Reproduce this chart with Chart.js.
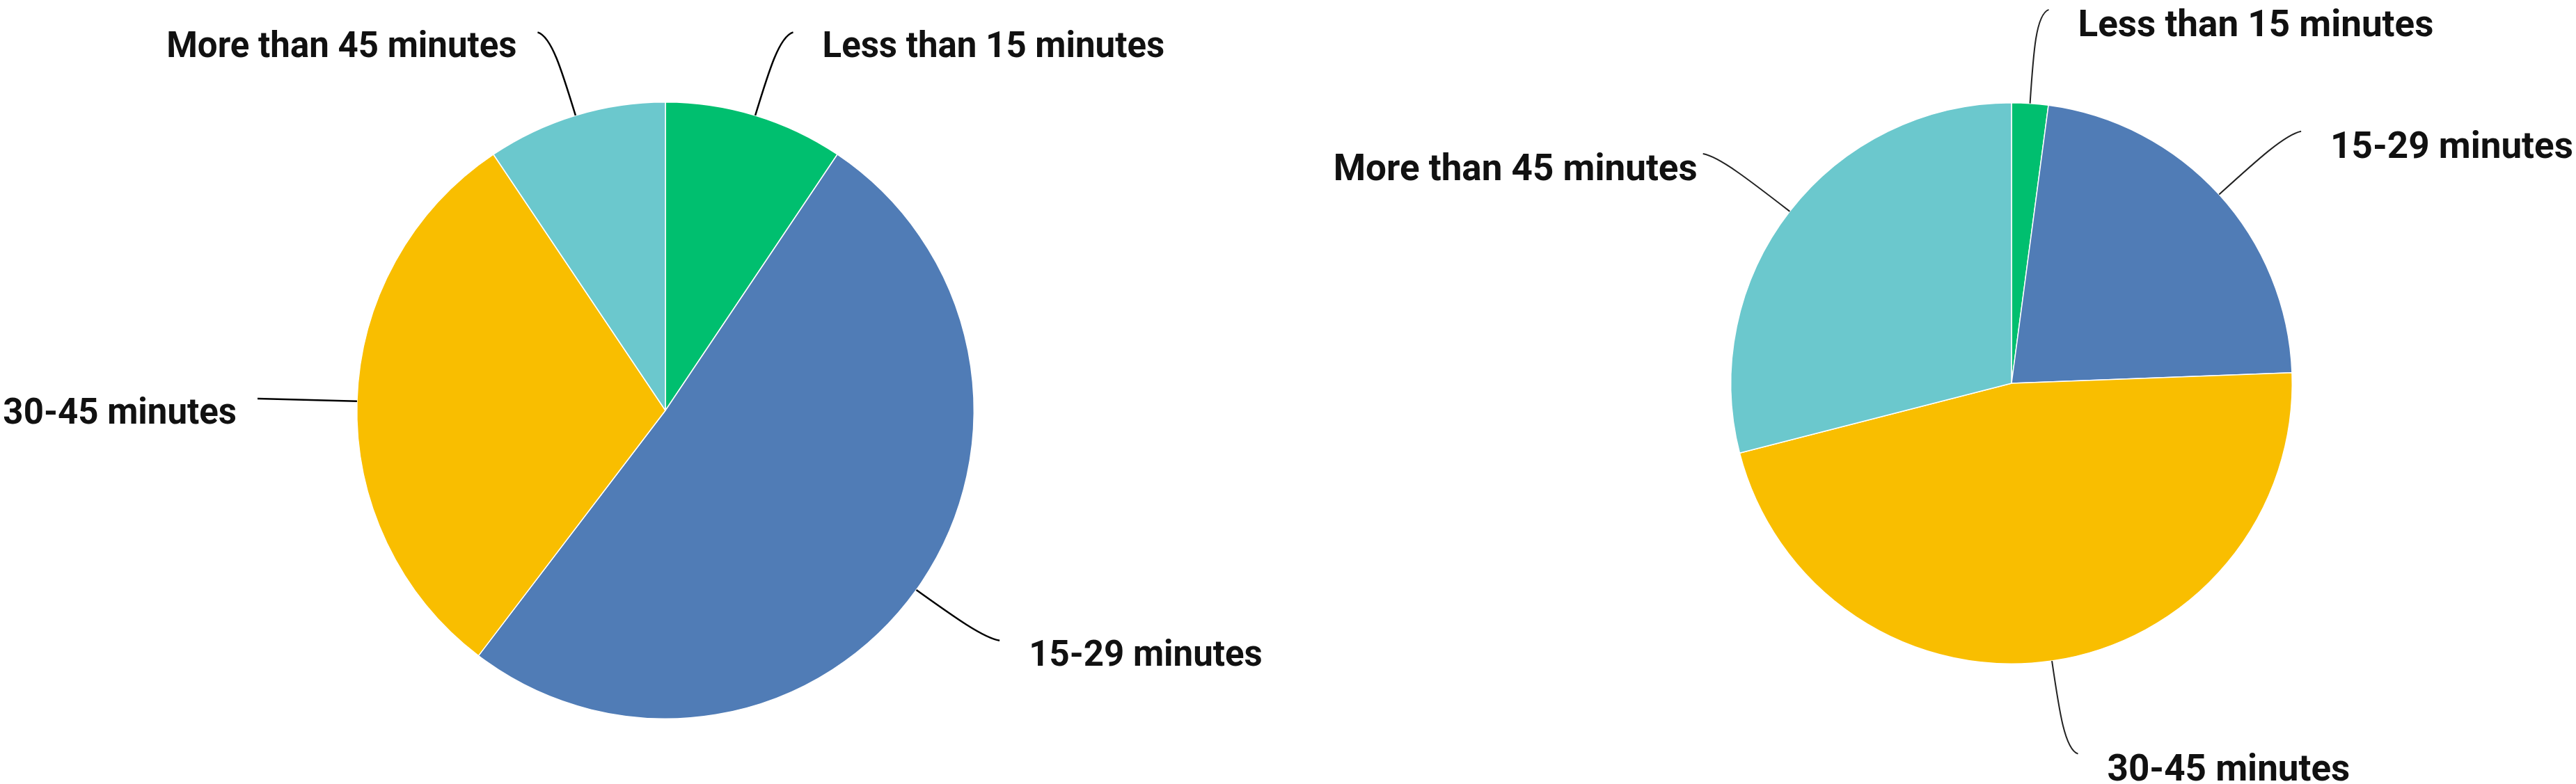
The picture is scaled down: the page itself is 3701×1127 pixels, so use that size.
<!DOCTYPE html>
<html>
<head>
<meta charset="utf-8">
<script src="https://cdn.jsdelivr.net/npm/chart.js@4.4.0/dist/chart.umd.min.js"></script>
<style>
  html, body { margin: 0; padding: 0; background: #fff; }
  body { width: 3701px; height: 1127px; position: relative; overflow: hidden; }
  .box { position: absolute; top: 0; height: 1127px; }
  #leftBox { left: 0; width: 1850px; }
  #rightBox { left: 1850px; width: 1851px; }
</style>
</head>
<body>
<div class="box" id="leftBox"><canvas id="leftChart"></canvas></div>
<div class="box" id="rightBox"><canvas id="rightChart"></canvas></div>
<script>
// answer categories, same order in both pies
var categories = ["Less than 15 minutes", "15-29 minutes", "30-45 minutes", "More than 45 minutes"];
// share of respondents (%)
var leftValues = [9.4, 50.9, 30.2, 9.4];
var rightValues = [2.1, 22.3, 46.6, 29.0];
var sliceColors = ["#00BF6F", "#507CB6", "#F9BE00", "#6BC8CD"];

// curved connector from slice edge out to its label
var leaderPlugin = {
  id: "leaders",
  afterDatasetsDraw: function(chart, args, opts) {
    var ctx = chart.ctx;
    var arcs = chart.getDatasetMeta(0).data;
    ctx.save();
    ctx.strokeStyle = opts.lineColor;
    ctx.lineWidth = opts.lineWidth;
    ctx.fillStyle = opts.textColor;
    ctx.font = opts.font;
    arcs.forEach(function(arc, i) {
      var p = arc.getProps(["x", "y", "startAngle", "endAngle", "outerRadius"]);
      var mid = (p.startAngle + p.endAngle) / 2;
      var dx = Math.cos(mid), dy = Math.sin(mid);
      var side = dx >= 0 ? 1 : -1;
      var len = opts.length;
      var x0 = p.x + dx * p.outerRadius, y0 = p.y + dy * p.outerRadius;
      var x3 = x0 + dx * len + side * opts.hook, y3 = y0 + dy * len;
      ctx.beginPath();
      ctx.moveTo(x0, y0);
      ctx.bezierCurveTo(x0 + dx * len * 0.55, y0 + dy * len * 0.55,
                        x0 + dx * len * 0.95, y0 + dy * len * 0.95, x3, y3);
      ctx.stroke();
      var gap = side > 0 ? opts.gapRight : opts.gapLeft;
      ctx.textAlign = side > 0 ? "left" : "right";
      ctx.textBaseline = "alphabetic";
      ctx.fillText(chart.data.labels[i], x3 + side * gap, y3 + opts.capHeight);
    });
    ctx.restore();
  }
};

function makePie(id, values, padding, labelOpts) {
  var ctx = document.getElementById(id).getContext("2d");
  return new Chart(ctx, {
    type: "pie",
    data: {
      labels: categories,
      datasets: [{
        data: values,
        backgroundColor: sliceColors,
        borderColor: "#ffffff",
        borderWidth: 1.5
      }]
    },
    options: {
      responsive: true,
      maintainAspectRatio: false,
      animation: false,
      layout: { padding: padding },
      plugins: {
        legend: { display: false },
        tooltip: { enabled: false },
        leaders: labelOpts
      }
    },
    plugins: [leaderPlugin]
  });
}

var leftChart = makePie("leftChart", leftValues,
  { left: 512, right: 450, top: 146, bottom: 93 },
  { length: 125, hook: 18, gapRight: 42, gapLeft: 30, capHeight: 36, lineWidth: 2.5,
    lineColor: "#000", textColor: "#111", font: "bold 51px Roboto" });

var rightChart = makePie("rightChart", rightValues,
  { left: 636, right: 407, top: 147, bottom: 172 },
  { length: 135, hook: 18, gapRight: 42, gapLeft: 8, capHeight: 38, lineWidth: 2,
    lineColor: "#222", textColor: "#111", font: "bold 53px Roboto" });
</script>
</body>
</html>
